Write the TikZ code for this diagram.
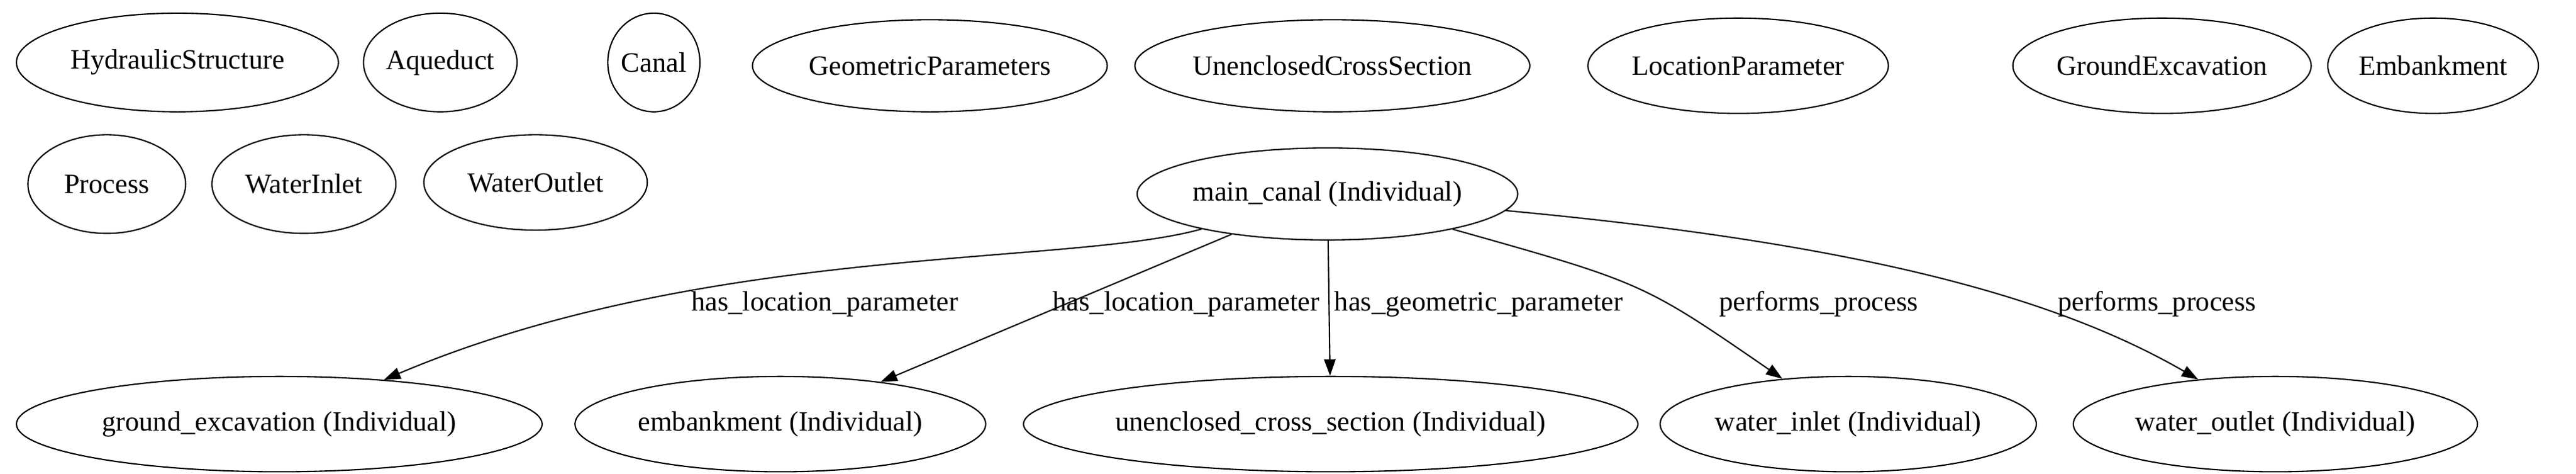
\documentclass[tikz,border=0pt]{standalone}
\usepackage{fontspec}
\setmainfont{Liberation Serif}
\newfontfamily\tms{Liberation Serif}
\usetikzlibrary{shapes.geometric,arrows.meta}
\begin{document}
\begin{tikzpicture}[x=1pt,y=-1pt,
  el/.style={ellipse,draw,line width=0.8pt,inner sep=0pt,font=\tms\fontsize{17}{19}\selectfont},
  ed/.style={draw,line width=0.8pt,-{Triangle[length=10pt,width=7pt]}},
  lb/.style={font=\tms\fontsize{17}{19}\selectfont}]
\useasboundingbox (0,0) rectangle (1568,288);
\node[el,minimum width=196pt,minimum height=60pt] (hs) at (108,38) {HydraulicStructure};
\node[el,minimum width=90pt,minimum height=60pt] (aq) at (268,38) {Aqueduct};
\node[el,minimum width=52pt,minimum height=60pt] (ca) at (398,38) {Canal};
\node[el,minimum width=216pt,minimum height=56pt] (gp) at (566,40) {GeometricParameters};
\node[el,minimum width=220pt,minimum height=56pt] (uc) at (811,40) {UnenclosedCrossSection};
\node[el,minimum width=156pt,minimum height=58pt] (lp) at (1058,40) {LocationParameter};
\node[el,minimum width=156pt,minimum height=58pt] (gx) at (1316,40) {GroundExcavation};
\node[el,minimum width=110pt,minimum height=58pt] (em) at (1481,40) {Embankment};
\node[el,minimum width=96pt,minimum height=60pt] (pr) at (65,112) {Process};
\node[el,minimum width=112pt,minimum height=60pt] (wi) at (185,112) {WaterInlet};
\node[el,minimum width=136pt,minimum height=58pt] (wo) at (326,111) {WaterOutlet};
\node[el,minimum width=220pt,minimum height=56pt] (mc) at (808,118) {main\_canal (Individual)};
\node[el,minimum width=320pt,minimum height=58pt] (ige) at (170,258) {ground\_excavation (Individual)};
\node[el,minimum width=250pt,minimum height=58pt] (iem) at (475,258) {embankment (Individual)};
\node[el,minimum width=374pt,minimum height=58pt] (iuc) at (810,258) {unenclosed\_cross\_section (Individual)};
\node[el,minimum width=210pt,minimum height=58pt] (iwi) at (1125,258) {water\_inlet (Individual)};
\node[el,minimum width=246pt,minimum height=58pt] (iwo) at (1385,258) {water\_outlet (Individual)};
\draw[ed] (mc) .. controls (650,162) and (430,148) .. (ige);
\draw[ed] (mc) -- (iem);
\draw[ed] (mc) -- (iuc);
\draw[ed] (mc) .. controls (1000,172) .. (iwi);
\draw[ed] (mc) .. controls (1130,148) and (1250,180) .. (iwo);
\node[lb] (l1) at (502,185) {has\_location\_parameter};
\node[lb] (l2) at (722,185) {has\_location\_parameter};
\node[lb] (l3) at (900,185) {has\_geometric\_parameter};
\node[lb] (l4) at (1107,185) {performs\_process};
\node[lb] (l5) at (1313,185) {performs\_process};
\end{tikzpicture}
\end{document}
